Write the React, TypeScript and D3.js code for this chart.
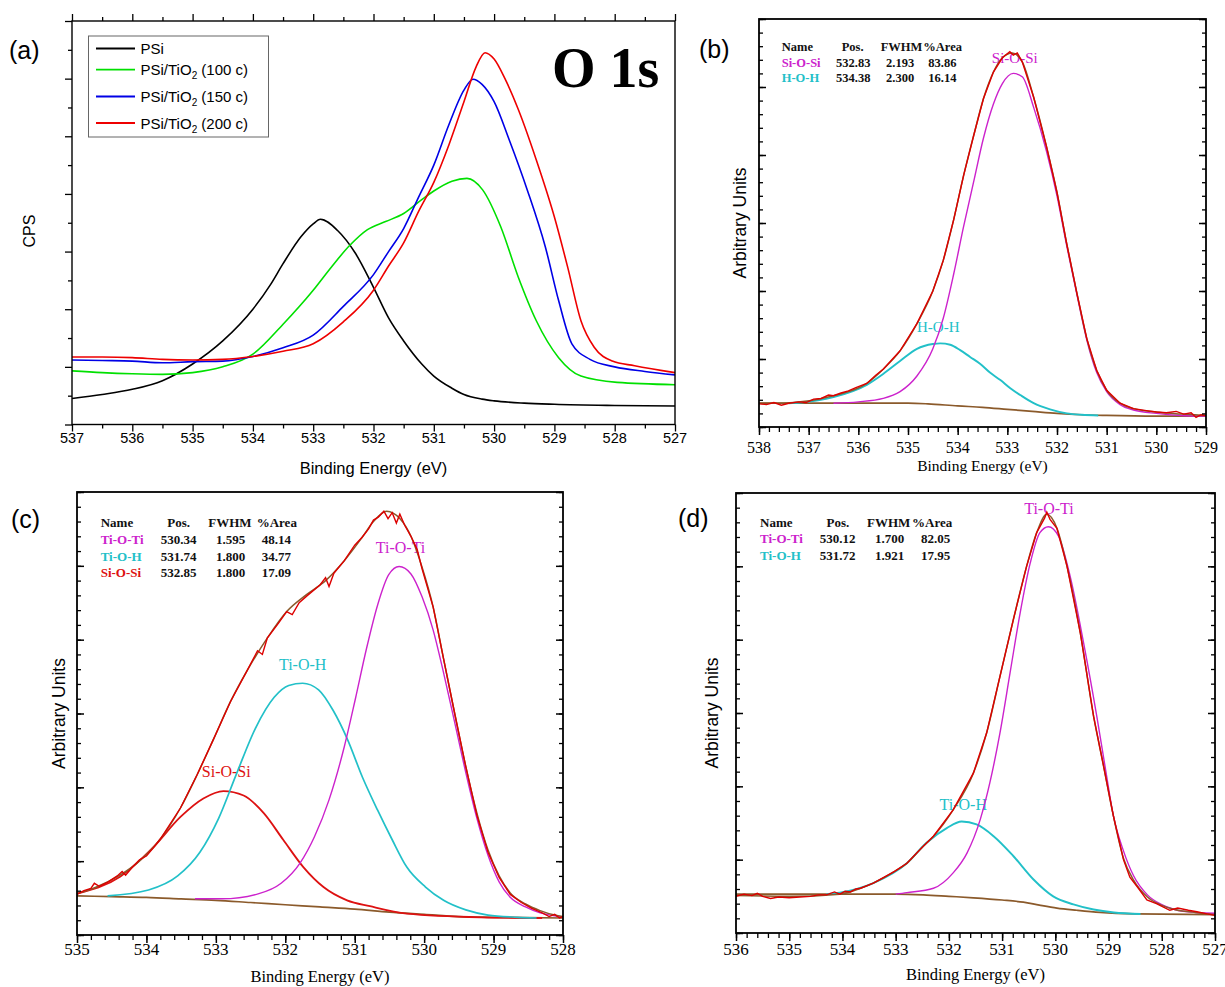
import React, { useEffect, useRef } from "react";
import * as d3 from "d3";

type Pt = [number, number];

// ---------------- panel (a): O 1s of the four samples (eV, CPS in arbitrary units)
const psiCurve: Pt[] = [
  [537, 0.45], [536.5, 0.52], [536, 0.61], [535.5, 0.76], [535, 1.05], [534.5, 1.45], [534, 2.0],
  [533.7, 2.44], [533.5, 2.79], [533.2, 3.26], [533, 3.48], [532.88, 3.56], [532.6, 3.37], [532.3, 2.97],
  [532, 2.38], [531.75, 1.85], [531.5, 1.45], [531.2, 1.05], [531, 0.84], [530.7, 0.63], [530.5, 0.52],
  [530.2, 0.44], [530, 0.41], [529.5, 0.37], [529, 0.35], [528, 0.33], [527, 0.32],
];
const tio100Curve: Pt[] = [
  [537, 0.93], [536.5, 0.9], [536, 0.88], [535.5, 0.87], [535, 0.9], [534.5, 1.0], [534, 1.22],
  [533.5, 1.74], [533, 2.33], [532.7, 2.73], [532.4, 3.1], [532.1, 3.38], [531.8, 3.52], [531.5, 3.66],
  [531.2, 3.9], [531, 4.05], [530.7, 4.22], [530.45, 4.27], [530.19, 4.07], [529.89, 3.43], [529.6, 2.56],
  [529.3, 1.8], [528.93, 1.16], [528.56, 0.84], [527.96, 0.73], [527, 0.69],
];
const tio150Curve: Pt[] = [
  [537, 1.12], [536.5, 1.11], [536, 1.1], [535.5, 1.07], [535, 1.09], [534.5, 1.1], [534, 1.18],
  [533.5, 1.33], [533, 1.55], [532.5, 2.05], [532, 2.6], [531.75, 3.0], [531.5, 3.4], [531.25, 3.95],
  [531, 4.5], [530.75, 5.2], [530.5, 5.8], [530.35, 5.99], [530.2, 5.9], [530, 5.6], [529.75, 4.94],
  [529.45, 4.07], [529.15, 3.08], [528.93, 2.15], [528.71, 1.4], [528.41, 1.13], [528, 1.0],
  [527.5, 0.92], [527, 0.86],
];
const tio200Curve: Pt[] = [
  [537, 1.17], [536.5, 1.17], [536, 1.16], [535.5, 1.13], [535, 1.12], [534.5, 1.13], [534, 1.18],
  [533.5, 1.27], [533, 1.4], [532.5, 1.78], [532, 2.33], [531.75, 2.75], [531.5, 3.15], [531.25, 3.7],
  [531, 4.2], [530.75, 4.85], [530.5, 5.6], [530.3, 6.2], [530.15, 6.45], [530, 6.34], [529.82, 6.0],
  [529.6, 5.47], [529.3, 4.59], [529, 3.6], [528.78, 2.73], [528.56, 1.8], [528.34, 1.34],
  [528.04, 1.1], [527.67, 1.02], [527, 0.9],
];
const surveyCurves = [psiCurve, tio100Curve, tio150Curve, tio200Curve];
const surveyColors = ["#000000", "#00e000", "#0000e6", "#ee0000"];
// legend text pieces: [before subscript, subscript, after]
const surveyLegend = [
  ["PSi", "", ""],
  ["PSi/TiO", "2", " (100 c)"],
  ["PSi/TiO", "2", " (150 c)"],
  ["PSi/TiO", "2", " (200 c)"],
];

// ---------------- panel (b): PSi, two components
const bBackground: Pt[] = [
  [538, 0.35], [535, 0.35], [534.6, 0.34], [534, 0.31], [533.5, 0.29], [533, 0.26], [532.5, 0.23],
  [532, 0.2], [531.5, 0.18], [531, 0.17], [530, 0.16], [529, 0.16],
];
const bSiOSi: Pt[] = [
  [536.5, 0.35], [536, 0.37], [535.5, 0.42], [535.16, 0.52], [534.82, 0.75], [534.5, 1.15],
  [534.29, 1.6], [534.08, 2.25], [533.88, 2.95], [533.68, 3.6], [533.48, 4.25], [533.28, 4.75],
  [533.1, 5.05], [532.88, 5.2], [532.7, 5.15], [532.47, 4.7], [532.21, 4.05], [532, 3.4], [531.8, 2.65],
  [531.6, 1.95], [531.4, 1.28], [531.2, 0.8], [531, 0.52], [530.73, 0.33], [530.46, 0.25], [530, 0.2],
  [529.5, 0.17], [529, 0.16],
];
const bHOH: Pt[] = [
  [537.4, 0.35], [537.17, 0.36], [536.5, 0.44], [535.83, 0.62], [535.5, 0.78], [535.16, 0.97],
  [534.82, 1.15], [534.5, 1.22], [534.35, 1.23], [534.15, 1.21], [533.95, 1.13], [533.75, 1.03],
  [533.55, 0.93], [533.35, 0.8], [533.14, 0.69], [532.94, 0.57], [532.74, 0.47], [532.47, 0.35],
  [532.14, 0.26], [531.8, 0.2], [531.5, 0.18], [531.17, 0.17],
];
const bFit: Pt[] = [
  [538, 0.35], [537.5, 0.35], [537.17, 0.37], [536.5, 0.46], [535.83, 0.64], [535.5, 0.85],
  [535.16, 1.12], [534.82, 1.52], [534.5, 2.0], [534.29, 2.45], [534.08, 3.05], [533.88, 3.7],
  [533.68, 4.28], [533.48, 4.83], [533.28, 5.22], [533.1, 5.43], [532.9, 5.5], [532.7, 5.37],
  [532.47, 4.85], [532.21, 4.12], [532, 3.45], [531.8, 2.68], [531.6, 1.97], [531.4, 1.3], [531.2, 0.83],
  [531, 0.54], [530.73, 0.35], [530.46, 0.27], [530, 0.22], [529.5, 0.19], [529, 0.17],
];
const bData: Pt[] = [
  [538, 0.34], [537.85, 0.33], [537.7, 0.36], [537.55, 0.32], [537.4, 0.35], [537.2, 0.37],
  [537.05, 0.36], [536.9, 0.41], [536.75, 0.42], [536.6, 0.47], [536.5, 0.46], [536.35, 0.5],
  [536.2, 0.53], [536.05, 0.58], [535.83, 0.64], [535.65, 0.76], [535.5, 0.85], [535.16, 1.12],
  [534.82, 1.52], [534.5, 2.0], [534.29, 2.45], [534.08, 3.05], [533.88, 3.7], [533.68, 4.28],
  [533.48, 4.83], [533.28, 5.22], [533.1, 5.43], [532.95, 5.52], [532.88, 5.47], [532.8, 5.5],
  [532.7, 5.37], [532.47, 4.85], [532.21, 4.12], [532, 3.45], [531.8, 2.68], [531.6, 1.97], [531.4, 1.3],
  [531.2, 0.83], [531, 0.54], [530.73, 0.35], [530.46, 0.27], [530.2, 0.24], [530, 0.22], [529.8, 0.21],
  [529.6, 0.23], [529.45, 0.19], [529.3, 0.21], [529.2, 0.14], [529.1, 0.18], [529, 0.17],
];
const bNames = ["Si-O-Si", "H-O-H"];
const bPos = ["532.83", "534.38"];
const bFwhm = ["2.193", "2.300"];
const bArea = ["83.86", "16.14"];

// ---------------- panel (c): PSi/TiO2 (100 c), three components
const cBackground: Pt[] = [
  [535, 0.53], [534.5, 0.52], [534, 0.51], [533.5, 0.49], [533, 0.47], [532.5, 0.44], [532, 0.41],
  [531.5, 0.38], [531, 0.35], [530.5, 0.31], [530, 0.28], [529.5, 0.25], [529, 0.24], [528, 0.23],
];
const cTiOTi: Pt[] = [
  [533.3, 0.49], [532.91, 0.49], [532.38, 0.56], [532.06, 0.7], [531.79, 0.97], [531.58, 1.33],
  [531.37, 1.83], [531.15, 2.55], [530.99, 3.2], [530.83, 3.88], [530.67, 4.47], [530.51, 4.88],
  [530.36, 4.99], [530.19, 4.89], [530.03, 4.58], [529.87, 4.13], [529.72, 3.55], [529.56, 2.88],
  [529.4, 2.2], [529.24, 1.58], [529.08, 1.08], [528.92, 0.72], [528.76, 0.51], [528.54, 0.38],
  [528.33, 0.3], [528.12, 0.26], [528, 0.24],
];
const cTiOH: Pt[] = [
  [534.56, 0.53], [533.97, 0.61], [533.55, 0.8], [533.23, 1.12], [532.96, 1.58], [532.7, 2.19],
  [532.43, 2.8], [532.16, 3.22], [531.95, 3.38], [531.75, 3.41], [531.52, 3.32], [531.31, 3.04],
  [531.1, 2.64], [530.89, 2.14], [530.67, 1.69], [530.46, 1.29], [530.25, 0.92], [529.98, 0.65],
  [529.72, 0.47], [529.4, 0.34], [529.08, 0.27], [528.66, 0.24], [528.38, 0.23],
];
const cSiOSi: Pt[] = [
  [535, 0.56], [534.38, 0.79], [533.9, 1.19], [533.51, 1.6], [533.18, 1.85], [532.89, 1.95],
  [532.6, 1.89], [532.31, 1.65], [532.03, 1.29], [531.74, 0.92], [531.45, 0.65], [531.11, 0.47],
  [530.78, 0.39], [530.25, 0.29], [529.18, 0.24], [528.3, 0.23],
];
const cFit: Pt[] = [
  [535, 0.56], [534.72, 0.65], [534.4, 0.8], [534.14, 0.97], [533.8, 1.3], [533.51, 1.72], [533.27, 2.17],
  [533.03, 2.66], [532.79, 3.16], [532.55, 3.58], [532.26, 4.02], [531.98, 4.38], [531.68, 4.62],
  [531.42, 4.8], [531.15, 5.07], [530.89, 5.39], [530.73, 5.6], [530.54, 5.74], [530.35, 5.64],
  [530.19, 5.4], [530.03, 4.98], [529.87, 4.44], [529.72, 3.74], [529.56, 3.0], [529.4, 2.28],
  [529.24, 1.65], [529.08, 1.15], [528.92, 0.8], [528.76, 0.57], [528.54, 0.42], [528.33, 0.33],
  [528.12, 0.27], [528, 0.25],
];
const cData: Pt[] = [
  [535, 0.55], [534.9, 0.6], [534.8, 0.63], [534.75, 0.7], [534.68, 0.66], [534.55, 0.72], [534.42, 0.8],
  [534.35, 0.86], [534.3, 0.81], [534.2, 0.92], [534.1, 1.02], [534, 1.07], [533.9, 1.18], [533.8, 1.3],
  [533.51, 1.72], [533.27, 2.17], [533.03, 2.66], [532.79, 3.16], [532.55, 3.58], [532.4, 3.85],
  [532.33, 3.8], [532.26, 4.02], [532.1, 4.22], [531.98, 4.38], [531.9, 4.34], [531.8, 4.5],
  [531.68, 4.6], [531.5, 4.74], [531.42, 4.84], [531.37, 4.72], [531.3, 4.9], [531.15, 5.07],
  [531, 5.28], [530.89, 5.39], [530.8, 5.5], [530.73, 5.62], [530.66, 5.66], [530.58, 5.74],
  [530.52, 5.64], [530.46, 5.72], [530.4, 5.58], [530.35, 5.7], [530.28, 5.55], [530.19, 5.4],
  [530.1, 5.22], [530.03, 4.96], [529.87, 4.44], [529.72, 3.74], [529.56, 3.0], [529.4, 2.28],
  [529.24, 1.62], [529.08, 1.12], [528.92, 0.78], [528.76, 0.55], [528.6, 0.44], [528.45, 0.36],
  [528.3, 0.3], [528.2, 0.25], [528.12, 0.28], [528.05, 0.23], [528, 0.25],
];
const cNames = ["Ti-O-Ti", "Ti-O-H", "Si-O-Si"];
const cPos = ["530.34", "531.74", "532.85"];
const cFwhm = ["1.595", "1.800", "1.800"];
const cArea = ["48.14", "34.77", "17.09"];

// ---------------- panel (d): PSi/TiO2 (150 c), two components
const dBackground: Pt[] = [
  [536, 0.53], [534, 0.53], [533, 0.53], [532.48, 0.52], [532, 0.5], [531.54, 0.48], [531, 0.45],
  [530.6, 0.42], [530.3, 0.38], [529.97, 0.34], [529.6, 0.31], [529.16, 0.28], [528.5, 0.26], [527, 0.25],
];
const dTiOTi: Pt[] = [
  [533, 0.53], [532.79, 0.55], [532.29, 0.61], [531.92, 0.82], [531.66, 1.09], [531.41, 1.55],
  [531.23, 2.05], [531.04, 2.73], [530.85, 3.55], [530.66, 4.37], [530.47, 5.05], [530.29, 5.46],
  [530.13, 5.54], [529.94, 5.41], [529.72, 4.86], [529.47, 3.96], [529.22, 2.95], [529.05, 2.2],
  [528.91, 1.6], [528.72, 1.12], [528.53, 0.78], [528.27, 0.52], [528.01, 0.39], [527.76, 0.32],
  [527.37, 0.28], [527, 0.27],
];
const dTiOH: Pt[] = [
  [534.3, 0.53], [534.05, 0.55], [533.42, 0.68], [532.79, 0.95], [532.42, 1.23], [532.04, 1.43],
  [531.76, 1.52], [531.48, 1.48], [531.16, 1.32], [530.79, 1.05], [530.41, 0.73], [530.04, 0.5],
  [529.66, 0.39], [529.28, 0.32], [528.9, 0.28], [528.4, 0.26],
];
const dFit: Pt[] = [
  [536, 0.51], [535, 0.5], [534.05, 0.53], [533.66, 0.61], [533.42, 0.68], [533.02, 0.84], [532.79, 0.95],
  [532.5, 1.17], [532.29, 1.32], [531.92, 1.68], [531.54, 2.18], [531.29, 2.73], [531.04, 3.5],
  [530.79, 4.27], [530.54, 5.0], [530.35, 5.46], [530.16, 5.71], [529.97, 5.52], [529.78, 5.0],
  [529.53, 4.09], [529.28, 2.95], [529.1, 2.3], [528.91, 1.6], [528.72, 1.02], [528.53, 0.72],
  [528.27, 0.49], [528.01, 0.38], [527.76, 0.32], [527.37, 0.28], [527, 0.25],
];
const dData: Pt[] = [
  [536, 0.5], [535.85, 0.53], [535.7, 0.51], [535.6, 0.54], [535.5, 0.5], [535.35, 0.47], [535.2, 0.49],
  [535, 0.48], [534.8, 0.49], [534.6, 0.5], [534.45, 0.52], [534.3, 0.52], [534.15, 0.56], [534.05, 0.53],
  [533.95, 0.57], [533.85, 0.56], [533.75, 0.6], [533.66, 0.61], [533.42, 0.68], [533.02, 0.84],
  [532.79, 0.95], [532.5, 1.17], [532.29, 1.32], [531.92, 1.68], [531.54, 2.18], [531.29, 2.73],
  [531.04, 3.5], [530.79, 4.27], [530.54, 5.0], [530.35, 5.46], [530.2, 5.66], [530.16, 5.74],
  [530.1, 5.64], [529.97, 5.52], [529.78, 5.0], [529.53, 4.09], [529.28, 2.95], [529.1, 2.3],
  [528.91, 1.6], [528.72, 1.0], [528.6, 0.76], [528.45, 0.62], [528.28, 0.45], [528.1, 0.4],
  [527.85, 0.31], [527.7, 0.34], [527.5, 0.31], [527.34, 0.29], [527.15, 0.26], [527, 0.24],
];
const dNames = ["Ti-O-Ti", "Ti-O-H"];
const dPos = ["530.12", "531.72"];
const dFwhm = ["1.700", "1.921"];
const dArea = ["82.05", "17.95"];

const tableHeader = ["Name", "Pos.", "FWHM", "%Area"];

const SANS = "'Liberation Sans', Arial, Helvetica, sans-serif";
const SERIF = "'Liberation Serif', 'Times New Roman', Times, serif";
const MAGENTA = "#cc22cc";
const CYAN = "#22c0c8";
const RED = "#dd1111";
const BROWN = "#8b5a2b";

const panels = [
  {
    id: "b", left: 759, right: 1206, top: 19, bottom: 427, xDomain: [538, 529],
    tickFont: 16, tickBaseline: 453, titleFont: 15.5, titleBaseline: 471, ylabX: 746,
    peakFont: 15, tableFont: 12.5,
    headerX: [22.7, 82.7, 121.7, 164.3], valueX: [22.7, 77, 127, 169.3], rowY: [31.7, 47.7, 62.7],
    letter: { text: "(b)", x: 699, y: 58 },
    background: bBackground, fit: bFit, data: bData,
    components: [
      { points: bHOH, color: CYAN, width: 1.9 },
      { points: bSiOSi, color: MAGENTA, width: 1.4 },
    ],
    labels: [
      { text: "Si-O-Si", at: [532.85, 5.36], color: MAGENTA },
      { text: "H-O-H", at: [534.39, 1.4], color: CYAN },
    ],
    names: bNames, pos: bPos, fwhm: bFwhm, area: bArea, nameColors: [MAGENTA, CYAN],
  },
  {
    id: "c", left: 77, right: 563, top: 492, bottom: 935, xDomain: [535, 528],
    tickFont: 17, tickBaseline: 955, titleFont: 16.5, titleBaseline: 982, ylabX: 65,
    peakFont: 16, tableFont: 13,
    headerX: [23.7, 90.3, 131.3, 179.7], valueX: [23.7, 83.7, 139, 184.7], rowY: [34.7, 52, 68.7, 84.7],
    letter: { text: "(c)", x: 11, y: 528 },
    background: cBackground, fit: cFit, data: cData,
    components: [
      { points: cSiOSi, color: RED, width: 1.8 },
      { points: cTiOH, color: CYAN, width: 1.7 },
      { points: cTiOTi, color: MAGENTA, width: 1.4 },
    ],
    labels: [
      { text: "Ti-O-Ti", at: [530.34, 5.17], color: MAGENTA },
      { text: "Ti-O-H", at: [531.75, 3.59], color: CYAN },
      { text: "Si-O-Si", at: [532.85, 2.14], color: RED },
    ],
    names: cNames, pos: cPos, fwhm: cFwhm, area: cArea, nameColors: [MAGENTA, CYAN, RED],
  },
  {
    id: "d", left: 736, right: 1215, top: 493, bottom: 933, xDomain: [536, 527],
    tickFont: 17, tickBaseline: 955, titleFont: 16.5, titleBaseline: 980, ylabX: 718,
    peakFont: 16, tableFont: 13,
    headerX: [24, 90.5, 131, 176], valueX: [24, 83.7, 139, 185], rowY: [33.7, 50.3, 67],
    letter: { text: "(d)", x: 678, y: 527 },
    background: dBackground, fit: dFit, data: dData,
    components: [
      { points: dTiOH, color: CYAN, width: 1.9 },
      { points: dTiOTi, color: MAGENTA, width: 1.4 },
    ],
    labels: [
      { text: "Ti-O-Ti", at: [530.12, 5.72], color: MAGENTA },
      { text: "Ti-O-H", at: [531.73, 1.68], color: CYAN },
    ],
    names: dNames, pos: dPos, fwhm: dFwhm, area: dArea, nameColors: [MAGENTA, CYAN],
  },
];

function styleTicks(sel: any, width: number) {
  sel.select(".domain").remove();
  sel.selectAll(".tick line").attr("stroke", "#000").attr("stroke-width", width);
  sel.selectAll(".tick text").remove();
}

function drawSurvey(root: any) {
  const L = 72, R = 675, T = 21, B = 424.5;
  const x = d3.scaleLinear().domain([537, 527]).range([L, R]);
  const y = d3.scaleLinear().domain([0, 7]).range([B, T]);
  const g = root.append("g");

  g.append("clipPath").attr("id", "clip-a").append("rect")
    .attr("x", L).attr("y", T).attr("width", R - L).attr("height", B - T);

  const line = d3.line<Pt>().x((d) => x(d[0])).y((d) => y(d[1])).curve(d3.curveMonotoneX);
  const curves = g.append("g").attr("clip-path", "url(#clip-a)").attr("fill", "none");
  surveyCurves.forEach((pts, i) => {
    curves.append("path").attr("d", line(pts)).attr("stroke", surveyColors[i]).attr("stroke-width", 1.6);
  });

  const xMajor = d3.range(0, 11).map((i) => 527 + i);
  const xMinor = d3.range(0, 10).map((i) => 527.5 + i);
  const yMajor = d3.range(0, 8);
  const yMinor = d3.range(0, 7).map((i) => i + 0.5);

  g.append("g").attr("transform", `translate(0,${B})`).call(d3.axisBottom(x).tickValues(xMajor).tickSize(7)).call(styleTicks, 1.3);
  g.append("g").attr("transform", `translate(0,${B})`).call(d3.axisBottom(x).tickValues(xMinor).tickSize(4)).call(styleTicks, 1.3);
  g.append("g").attr("transform", `translate(0,${T})`).call(d3.axisTop(x).tickValues(xMajor).tickSize(7)).call(styleTicks, 1.3);
  g.append("g").attr("transform", `translate(0,${T})`).call(d3.axisTop(x).tickValues(xMinor).tickSize(4)).call(styleTicks, 1.3);
  g.append("g").attr("transform", `translate(${L},0)`).call(d3.axisLeft(y).tickValues(yMajor).tickSize(7)).call(styleTicks, 1.3);
  g.append("g").attr("transform", `translate(${L},0)`).call(d3.axisLeft(y).tickValues(yMinor).tickSize(4)).call(styleTicks, 1.3);

  g.append("rect").attr("x", L).attr("y", T).attr("width", R - L).attr("height", B - T)
    .attr("fill", "none").attr("stroke", "#000").attr("stroke-width", 1.4);

  g.selectAll(".xlab").data(xMajor).join("text")
    .attr("x", (d: number) => x(d)).attr("y", 443).attr("text-anchor", "middle")
    .attr("font-family", SANS).attr("font-size", 14.5).text((d: number) => d);

  g.append("text").attr("x", (L + R) / 2).attr("y", 474).attr("text-anchor", "middle")
    .attr("font-family", SANS).attr("font-size", 16.5).text("Binding Energy (eV)");
  g.append("text").attr("transform", "translate(35,231) rotate(-90)").attr("text-anchor", "middle")
    .attr("font-family", SANS).attr("font-size", 16).text("CPS");
  g.append("text").attr("x", 9).attr("y", 59).attr("font-family", SANS).attr("font-size", 25).text("(a)");
  g.append("text").attr("x", 552).attr("y", 87).attr("font-family", SERIF).attr("font-weight", "bold")
    .attr("font-size", 56).text("O 1s");

  // legend
  const legendRows = [48.5, 69.6, 96.5, 123];
  g.append("rect").attr("x", 88.5).attr("y", 36).attr("width", 180).attr("height", 101)
    .attr("fill", "#fff").attr("stroke", "#666").attr("stroke-width", 1);
  surveyLegend.forEach((parts, i) => {
    const ly = legendRows[i];
    g.append("line").attr("x1", 96).attr("x2", 135).attr("y1", ly).attr("y2", ly)
      .attr("stroke", surveyColors[i]).attr("stroke-width", 1.8);
    const t = g.append("text").attr("x", 140.5).attr("y", ly + 5.5).attr("font-family", SANS).attr("font-size", 15);
    t.append("tspan").text(parts[0]);
    if (parts[1]) {
      t.append("tspan").attr("font-size", 10).attr("dy", 4).text(parts[1]);
      t.append("tspan").attr("dy", -4).text(parts[2]);
    }
  });
}

function drawFitPanel(root: any, p: any) {
  const x = d3.scaleLinear().domain(p.xDomain).range([p.left, p.right]);
  const y = d3.scaleLinear().domain([0, 6]).range([p.bottom, p.top]);
  const g = root.append("g");
  const clipId = "clip-" + p.id;
  g.append("clipPath").attr("id", clipId).append("rect")
    .attr("x", p.left).attr("y", p.top).attr("width", p.right - p.left).attr("height", p.bottom - p.top);

  // peak names sit under the curves, like in the original export
  p.labels.forEach((lb: any) => {
    g.append("text").attr("x", x(lb.at[0])).attr("y", y(lb.at[1])).attr("text-anchor", "middle")
      .attr("font-family", SERIF).attr("font-size", p.peakFont).attr("fill", lb.color).text(lb.text);
  });

  const smooth = d3.line<Pt>().x((d) => x(d[0])).y((d) => y(d[1])).curve(d3.curveMonotoneX);
  const raw = d3.line<Pt>().x((d) => x(d[0])).y((d) => y(d[1]));
  const curves = g.append("g").attr("clip-path", `url(#${clipId})`).attr("fill", "none");
  curves.append("path").attr("d", smooth(p.background)).attr("stroke", BROWN).attr("stroke-width", 1.7);
  p.components.forEach((c: any) => {
    curves.append("path").attr("d", smooth(c.points)).attr("stroke", c.color).attr("stroke-width", c.width);
  });
  curves.append("path").attr("d", smooth(p.fit)).attr("stroke", BROWN).attr("stroke-width", 1.5);
  curves.append("path").attr("d", raw(p.data)).attr("stroke", "#dd0000").attr("stroke-width", 1.4);

  const lo = p.xDomain[1], hi = p.xDomain[0];
  const xMajor = d3.range(0, hi - lo + 1).map((i) => lo + i);
  const xMinor = d3.range(0, (hi - lo) * 5 + 1).map((i) => lo + i * 0.2);
  const yMajor = d3.range(0, 7);
  const yMinor = d3.range(0, 31).map((i) => i * 0.2);

  g.append("g").attr("transform", `translate(0,${p.bottom})`).call(d3.axisBottom(x).tickValues(xMinor).tickSize(5)).call(styleTicks, 1.3);
  g.append("g").attr("transform", `translate(0,${p.bottom})`).call(d3.axisBottom(x).tickValues(xMajor).tickSize(8)).call(styleTicks, 1.5);
  g.append("g").attr("transform", `translate(${p.left},0)`).call(d3.axisLeft(y).tickValues(yMinor).tickSize(-4)).call(styleTicks, 1.3);
  g.append("g").attr("transform", `translate(${p.left},0)`).call(d3.axisLeft(y).tickValues(yMajor).tickSize(-7)).call(styleTicks, 1.5);
  g.append("g").attr("transform", `translate(${p.right},0)`).call(d3.axisRight(y).tickValues(yMinor).tickSize(-4)).call(styleTicks, 1.3);
  g.append("g").attr("transform", `translate(${p.right},0)`).call(d3.axisRight(y).tickValues(yMajor).tickSize(-7)).call(styleTicks, 1.5);

  g.append("rect").attr("x", p.left).attr("y", p.top).attr("width", p.right - p.left).attr("height", p.bottom - p.top)
    .attr("fill", "none").attr("stroke", "#000").attr("stroke-width", 1.8);

  g.selectAll(".xlab").data(xMajor).join("text")
    .attr("x", (d: number) => x(d)).attr("y", p.tickBaseline).attr("text-anchor", "middle")
    .attr("font-family", SERIF).attr("font-size", p.tickFont).text((d: number) => d);

  g.append("text").attr("x", (p.left + p.right) / 2).attr("y", p.titleBaseline).attr("text-anchor", "middle")
    .attr("font-family", SERIF).attr("font-size", p.titleFont).text("Binding Energy (eV)");
  g.append("text").attr("transform", `translate(${p.ylabX},${(p.top + p.bottom) / 2}) rotate(-90)`)
    .attr("text-anchor", "middle").attr("font-family", SANS).attr("font-size", 17.5).text("Arbitrary Units");
  g.append("text").attr("x", p.letter.x).attr("y", p.letter.y).attr("font-family", SANS).attr("font-size", 25).text(p.letter.text);

  // fit table
  const table = g.append("g").attr("font-family", SERIF).attr("font-weight", "bold").attr("font-size", p.tableFont);
  tableHeader.forEach((h, i) => {
    table.append("text").attr("x", p.left + p.headerX[i]).attr("y", p.top + p.rowY[0]).attr("fill", "#111").text(h);
  });
  p.names.forEach((name: string, r: number) => {
    const ry = p.top + p.rowY[r + 1];
    table.append("text").attr("x", p.left + p.valueX[0]).attr("y", ry).attr("fill", p.nameColors[r]).text(name);
    [p.pos[r], p.fwhm[r], p.area[r]].forEach((v: string, c: number) => {
      table.append("text").attr("x", p.left + p.valueX[c + 1]).attr("y", ry).attr("fill", "#111").text(v);
    });
  });
}

export default function App() {
  const svgRef = useRef<SVGSVGElement>(null);

  useEffect(() => {
    const svg = d3.select(svgRef.current);
    svg.selectAll("*").remove();
    svg.append("rect").attr("width", 1225).attr("height", 987).attr("fill", "#fff");
    drawSurvey(svg);
    panels.forEach((p) => drawFitPanel(svg, p));
  }, []);

  return (
    <svg
      ref={svgRef}
      width={1225}
      height={987}
      style={{ position: "absolute", left: 0, top: 0, display: "block" }}
    />
  );
}
